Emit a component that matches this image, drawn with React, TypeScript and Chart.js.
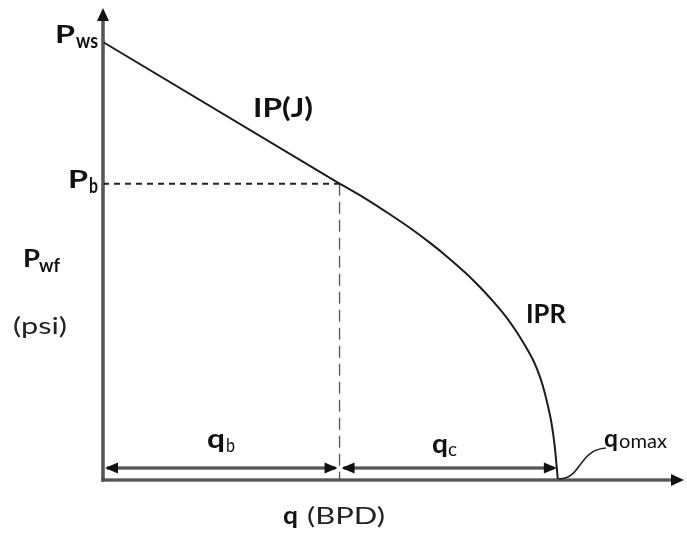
import React, { useEffect, useRef } from 'react';
import { Chart, registerables } from 'chart.js';

Chart.register(...registerables);

// Data (q in BPD, p in psi)
const lineQ = [0, 520];
const lineP = [3000, 2030];
const curveQ = [520, 576, 627, 675, 719, 759, 796, 829, 859, 886, 909, 929, 947, 960, 970, 978, 985, 990, 994, 997, 1000];
const curveP = [2030, 1929, 1827, 1726, 1624, 1523, 1421, 1320, 1218, 1117, 1015, 914, 812, 711, 609, 508, 406, 305, 203, 102, 0];
const qAxisMax = 1275;
const pAxisMax = 3233;
const qMax = 1000;

function drawText(
  ctx: CanvasRenderingContext2D,
  s: string,
  x: number,
  y: number,
  font: string,
  w?: number,
  color = '#111'
) {
  ctx.save();
  ctx.font = font;
  const m = ctx.measureText(s).width;
  ctx.translate(x, y);
  if (w) ctx.scale(w / m, 1);
  ctx.fillStyle = color;
  ctx.textBaseline = 'alphabetic';
  ctx.textAlign = 'left';
  ctx.fillText(s, 0, 0);
  ctx.restore();
}

function heavyLine(ctx: CanvasRenderingContext2D, x1: number, y1: number, x2: number, y2: number) {
  ctx.save();
  ctx.lineCap = 'butt';
  ctx.strokeStyle = '#222';
  ctx.lineWidth = 3.2;
  ctx.beginPath();
  ctx.moveTo(x1, y1);
  ctx.lineTo(x2, y2);
  ctx.stroke();
  ctx.strokeStyle = '#8a8a8a';
  ctx.lineWidth = 1;
  ctx.beginPath();
  ctx.moveTo(x1, y1);
  ctx.lineTo(x2, y2);
  ctx.stroke();
  ctx.restore();
}

function arrowHead(ctx: CanvasRenderingContext2D, tx: number, ty: number, dx: number, dy: number, len: number, half: number) {
  const bx = tx - dx * len;
  const by = ty - dy * len;
  const px = -dy;
  const py = dx;
  ctx.save();
  ctx.fillStyle = '#111';
  ctx.beginPath();
  ctx.moveTo(tx, ty);
  ctx.lineTo(bx + px * half, by + py * half);
  ctx.lineTo(bx - px * half, by - py * half);
  ctx.closePath();
  ctx.fill();
  ctx.restore();
}

const overlay = {
  id: 'overlay',
  afterDatasetsDraw(chart: any) {
    const ctx: CanvasRenderingContext2D = chart.ctx;
    const xs = chart.scales.x;
    const ys = chart.scales.y;
    const x0 = xs.getPixelForValue(0);
    const y0 = ys.getPixelForValue(0);
    const xqb = xs.getPixelForValue(lineQ[1]);
    const xqm = xs.getPixelForValue(qMax);
    const yPws = ys.getPixelForValue(lineP[0]);
    const yPb = ys.getPixelForValue(lineP[1]);
    const top = chart.chartArea.top;
    const right = chart.chartArea.right;

    // axes
    heavyLine(ctx, x0, y0 + 1.5, x0, top + 10);
    arrowHead(ctx, x0, top, 0, -1, 13, 6);
    heavyLine(ctx, x0 - 1.5, y0, right - 10, y0);
    arrowHead(ctx, right + 1, y0, 1, 0, 13, 6);

    // dimension arrows
    const yd = y0 - 12;
    heavyLine(ctx, x0 + 4, yd, xqb - 4, yd);
    arrowHead(ctx, x0 + 2, yd, -1, 0, 13, 5.5);
    arrowHead(ctx, xqb - 2, yd, 1, 0, 13, 5.5);
    heavyLine(ctx, xqb + 4, yd, xqm - 4, yd);
    arrowHead(ctx, xqb + 2, yd, -1, 0, 13, 5.5);
    arrowHead(ctx, xqm - 1, yd, 1, 0, 13, 5.5);

    // leader for q omax
    ctx.save();
    ctx.strokeStyle = '#222';
    ctx.lineWidth = 1.6;
    ctx.beginPath();
    ctx.moveTo(xqm + 1, y0 - 1);
    ctx.bezierCurveTo(xqm + 24, y0 - 1, xqm + 20, y0 - 30, xqm + 48, y0 - 32);
    ctx.stroke();
    ctx.restore();

    // labels
    const B = (n: number) => `bold ${n}px Lato`;
    const R = (n: number) => `${n}px Lato`;
    drawText(ctx, 'P', x0 - 48, yPws + 1, B(25), 20);
    drawText(ctx, 'ws', x0 - 27, yPws + 6, B(20), 22);
    drawText(ctx, 'P', x0 - 35, yPb + 4, B(25), 20);
    drawText(ctx, 'b', x0 - 14, yPb + 9, B(21), 9);
    drawText(ctx, 'P', 23, 267, B(25), 17);
    drawText(ctx, 'wf', 39, 272, B(19), 21);
    drawText(ctx, '(psi)', 13, 334, R(24), 54, '#222');
    drawText(ctx, 'IP(J)', 253, 117, B(26), 60);
    drawText(ctx, 'IPR', 526, 323, B(27), 40);
    drawText(ctx, 'q', 207, 448, B(26), 18);
    drawText(ctx, 'b', 226, 452, R(19), 9);
    drawText(ctx, 'q', 432, 453, B(26), 16);
    drawText(ctx, 'c', 448, 456, R(19), 9);
    drawText(ctx, 'q', 604, 447, B(24), 14);
    drawText(ctx, 'omax', 619, 448, R(19), 48);
    drawText(ctx, 'q', 283, 524, B(24), 15);
    drawText(ctx, '(BPD)', 307, 524, R(23), 78, '#222');
  },
};

export default function App() {
  const ref = useRef<HTMLCanvasElement>(null);
  useEffect(() => {
    const canvas = ref.current;
    if (!canvas) return;
    const chart = new Chart(canvas, {
      type: 'line',
      data: {
        datasets: [
          {
            data: lineQ.map((q, i) => ({ x: q, y: lineP[i] })),
            borderColor: '#1c1c1c',
            borderWidth: 2,
            tension: 0,
            clip: false as any,
          },
          {
            data: curveQ.map((q, i) => ({ x: q, y: curveP[i] })),
            borderColor: '#1c1c1c',
            borderWidth: 2,
            tension: 0.3,
            clip: false as any,
          },
          {
            data: [
              { x: 0, y: lineP[1] },
              { x: lineQ[1], y: lineP[1] },
            ],
            borderColor: '#222',
            borderWidth: 2,
            borderDash: [6, 5],
            clip: false as any,
          },
          {
            data: [
              { x: lineQ[1], y: lineP[1] },
              { x: lineQ[1], y: 0 },
            ],
            borderColor: '#555',
            borderWidth: 1.3,
            borderDash: [12, 6],
            clip: false as any,
          },
        ],
      },
      options: {
        responsive: false,
        animation: false,
        layout: { padding: { left: 103, top: 8, right: 4, bottom: 57 } },
        scales: {
          x: { type: 'linear', min: 0, max: qAxisMax, display: false },
          y: { type: 'linear', min: 0, max: pAxisMax, display: false },
        },
        elements: { point: { radius: 0 } },
        plugins: { legend: { display: false }, tooltip: { enabled: false } },
      },
      plugins: [overlay],
    });
    return () => chart.destroy();
  }, []);
  return (
    <canvas
      ref={ref}
      width={687}
      height={537}
      style={{ position: 'absolute', left: 0, top: 0, width: 687, height: 537, background: '#fff' }}
    />
  );
}
